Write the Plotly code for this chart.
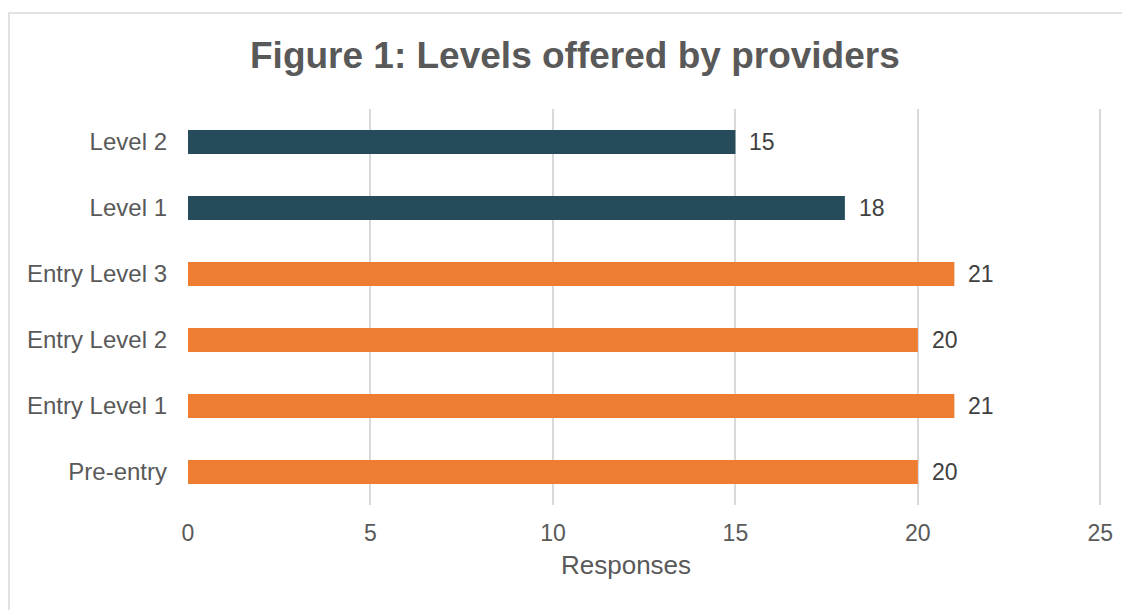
import plotly.graph_objects as go

categories = ["Pre-entry", "Entry Level 1", "Entry Level 2", "Entry Level 3", "Level 1", "Level 2"]
values = [20, 21, 20, 21, 18, 15]
bar_colors = ["#ED7D31", "#ED7D31", "#ED7D31", "#ED7D31", "#264B5A", "#264B5A"]
x_ticks = [0, 5, 10, 15, 20, 25]

# page has an 8px body margin: figure is placed at (8, 8)
OFF = 8
W, H = 1130 - OFF, 610 - OFF
L, R, T, B = 188 - OFF, 26, 109 - OFF, 105
XMAX = 25.1
FONT = "Liberation Sans, Arial, sans-serif"
TXT = "#595959"

fig = go.Figure()
fig.add_trace(go.Bar(
    x=values, y=categories, orientation="h",
    marker=dict(color=bar_colors, line=dict(width=0)),
    hoverinfo="skip",
))

for c, v in zip(categories, values):
    fig.add_annotation(x=v, y=c, text=str(v), showarrow=False, xanchor="left",
                       xshift=12, font=dict(family=FONT, size=23, color="#404040"))

pw = W - L - R
ph = H - T - B

def px_x(p):  # page pixel -> paper x
    return (p - OFF - L) / pw

def px_y(p):  # page pixel -> paper y
    return 1 - (p - OFF - T) / ph

fig.add_shape(type="rect", xref="paper", yref="paper",
              x0=px_x(9), x1=px_x(1140), y0=px_y(620), y1=px_y(13),
              line=dict(color="#D9D9D9", width=1.5), fillcolor="rgba(0,0,0,0)", layer="below")

fig.add_annotation(xref="paper", yref="paper", x=px_x(626), y=px_y(565),
                   text="Responses", showarrow=False, xanchor="center", yanchor="middle",
                   font=dict(family=FONT, size=26, color=TXT))

fig.add_annotation(xref="paper", yref="paper", x=px_x(575), y=px_y(55),
                   text="<b>Figure 1: Levels offered by providers</b>", showarrow=False,
                   xanchor="center", yanchor="middle",
                   font=dict(family=FONT, size=37, color=TXT))

fig.update_layout(
    width=W, height=H,
    margin=dict(l=L, r=R, t=T, b=B),
    paper_bgcolor="white", plot_bgcolor="white",
    bargap=0.64,
    showlegend=False,
    xaxis=dict(range=[0, XMAX], tickvals=x_ticks, showgrid=True, gridcolor="#D9D9D9", gridwidth=1.5,
               zeroline=False, showline=False, tickfont=dict(family=FONT, size=23, color=TXT),
               ticks="", ticklabelstandoff=12, fixedrange=True),
    yaxis=dict(categoryorder="array", categoryarray=categories, showgrid=False, zeroline=False,
               showline=False, ticks="", ticklabelstandoff=20,
               tickfont=dict(family=FONT, size=24, color=TXT), fixedrange=True),
)

fig.write_html("out.html")
